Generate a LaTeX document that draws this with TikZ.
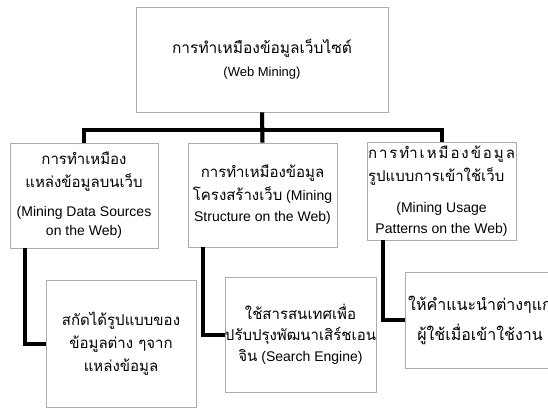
\documentclass[tikz,border=0pt]{standalone}
\usepackage{fontspec}
\setmainfont{Liberation Sans}
\newfontfamily\thfont[Script=Thai]{Loma}
\usetikzlibrary{shadows}
\begin{document}
\begin{tikzpicture}[x=1pt,y=-1pt,
  box/.style={draw=gray!65, line width=0.9pt, fill=white, inner sep=0pt, align=center,
    drop shadow={shadow xshift=1pt, shadow yshift=-1pt, fill=gray!45, opacity=1},
    font=\fontsize{14}{17}\selectfont},
  thbox/.style={box, font=\thfont\fontsize{15}{23}\selectfont},
  conn/.style={line width=4pt, black},
  connsh/.style={line width=4pt, gray!55}]
\useasboundingbox (0,0) rectangle (548,409);
\clip (0,0) rectangle (548,409);
\fill[white] (0,0) rectangle (548,409);

\node[box, minimum width=252pt, minimum height=105pt] (top) at (262,59.5)
  {{\thfont\fontsize{15.5}{20}\selectfont การทำเหมืองข้อมูลเว็บไซต์}\\[6pt]
   {\fontsize{13}{16}\selectfont (Web Mining)}};

\node[box, minimum width=148pt, minimum height=105pt] (c1) at (84,195.5)
  {{\thfont\fontsize{15}{25}\selectfont การทำเหมือง}\\[6pt]
   {\thfont\fontsize{15}{25}\selectfont แหล่งข้อมูลบนเว็บ}\\[12pt]
   (Mining Data Sources\\[2pt] on the Web)};

\node[box, minimum width=149pt, minimum height=104pt] (c2) at (262.5,195)
  {{\thfont\fontsize{15}{22}\selectfont การทำเหมืองข้อมูล}\\[4pt]
   {\thfont\fontsize{15}{22}\selectfont โครงสร้างเว็บ} (Mining\\[4pt]
   Structure on the Web)};

\node[box, minimum width=149pt, minimum height=98pt] (c3) at (441.5,191)
  {\makebox[147pt][s]{\thfont\fontsize{15}{22}\selectfont ก\hfill า\hfill ร\hfill ทำ\hfill เ\hfill ห\hfill มื\hfill อ\hfill ง\hfill ข้\hfill อ\hfill มู\hfill ล}\\[4pt]
   \makebox[147pt][l]{\thfont\fontsize{15}{22}\selectfont รูปแบบการเข้าใช้เว็บ}\\[14pt]
   (Mining Usage\\[4pt] Patterns on the Web)};

\node[thbox, minimum width=150pt, minimum height=127pt] (c4) at (121,343.5)
  {สกัดได้รูปแบบของ\\ ข้อมูลต่าง ๆจาก\\ แหล่งข้อมูล};

\node[box, minimum width=149pt, minimum height=115pt] (c5) at (300.5,334.5)
  {{\thfont\fontsize{15}{24}\selectfont ใช้สารสนเทศเพื่อ}\\[4pt]
   {\thfont\fontsize{15}{24}\selectfont ปรับปรุงพัฒนาเสิร์ชเอน}\\[4pt]
   {\thfont\fontsize{15}{24}\selectfont จิน} (Search Engine)};

\node[thbox, font=\thfont\fontsize{16}{30}\selectfont, minimum width=150pt, minimum height=96pt] (c6) at (480,320)
  {ให้คำแนะนำต่างๆแก่\\ ผู้ใช้เมื่อเข้าใช้งาน};

\coordinate (bar) at (262,130);

\begin{scope}[shift={(1,1)}]
\draw[connsh] (c1.north) |- (bar) -| (c3.north);
\draw[connsh] (top.south) -- (c2.north);
\draw[connsh] ([xshift=15pt]c1.south west) |- (c4.west);
\draw[connsh] ([xshift=15pt]c2.south west) |- (c5.west);
\draw[connsh] ([xshift=16pt]c3.south west) |- (c6.west);
\end{scope}
\draw[conn] (c1.north) |- (bar) -| (c3.north);
\draw[conn] (top.south) -- (c2.north);
\draw[conn] ([xshift=15pt]c1.south west) |- (c4.west);
\draw[conn] ([xshift=15pt]c2.south west) |- (c5.west);
\draw[conn] ([xshift=16pt]c3.south west) |- (c6.west);
\end{tikzpicture}
\end{document}
